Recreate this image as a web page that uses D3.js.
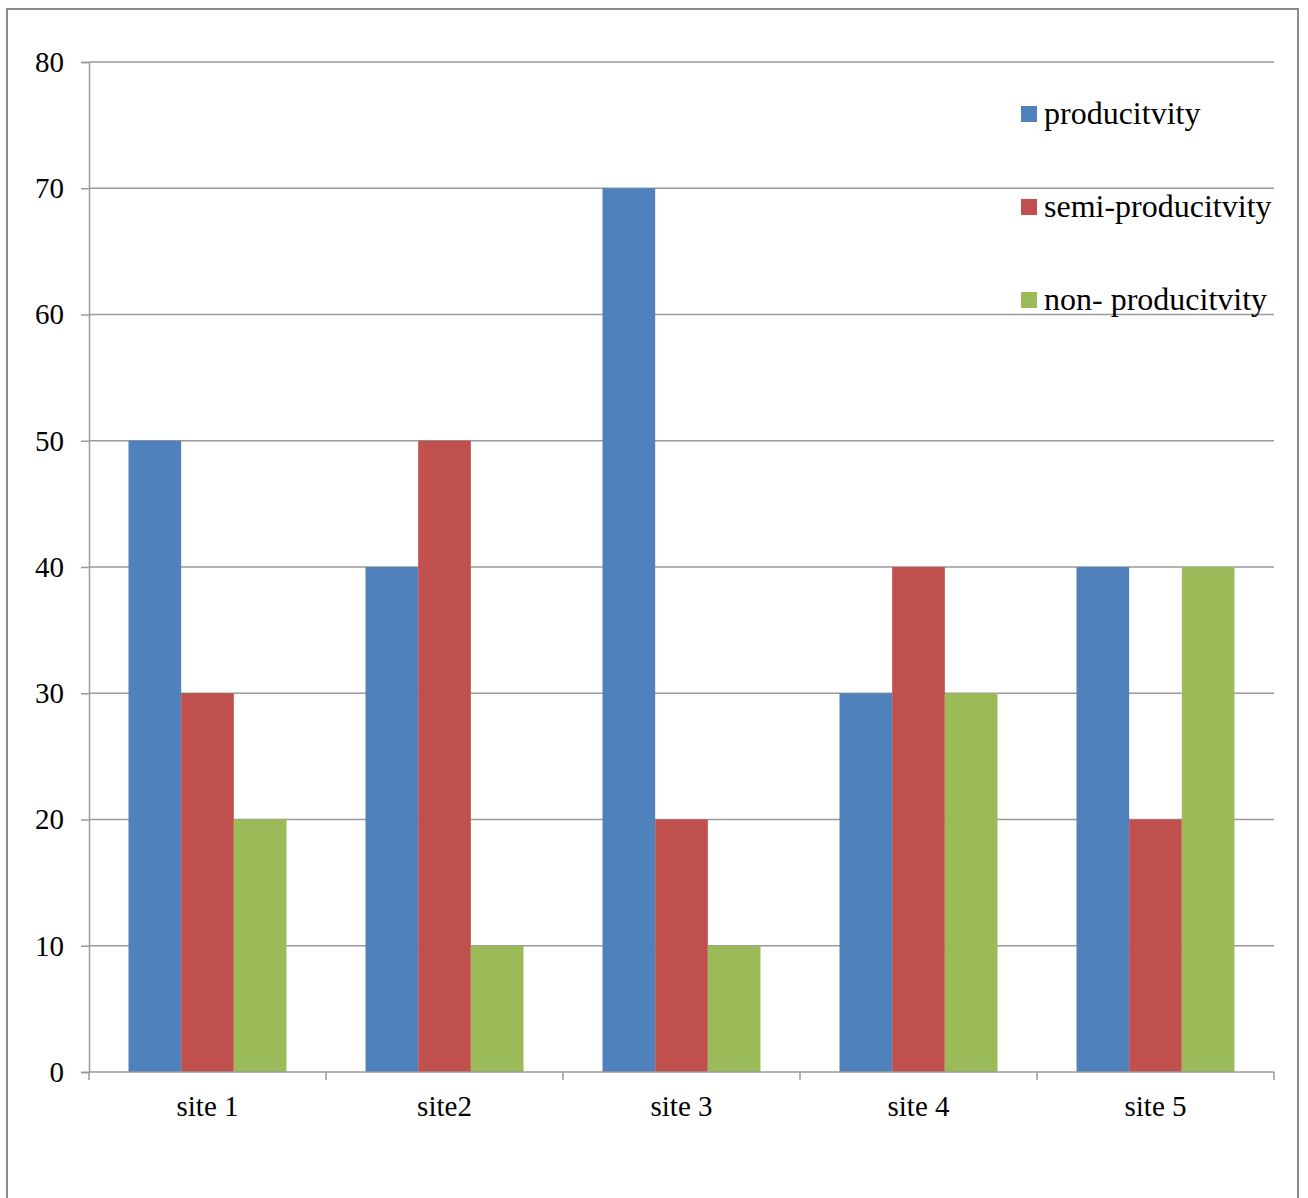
<!DOCTYPE html>
<html><head><meta charset="utf-8">
<script src="https://cdn.jsdelivr.net/npm/d3@7"></script>
<style>body{margin:0;background:#fff;} svg{display:block;font-family:"Liberation Serif","Times New Roman",serif;}</style>
</head><body>
<script>
const sites = ["site 1","site2","site 3","site 4","site 5"];
const seriesNames = ["producitvity","semi-producitvity","non- producitvity"];
const productivity = [50,40,70,30,40];
const semiProductivity = [30,50,20,40,20];
const nonProductivity = [20,10,10,30,40];
const yTicks = [0,10,20,30,40,50,60,70,80];
const colors = ["#4F81BD","#C0504D","#9BBB59"];
const seriesValues = [productivity, semiProductivity, nonProductivity];

const W = 1308, H = 1198;
const svg = d3.select("body").append("svg").attr("width", W).attr("height", H);
svg.append("rect").attr("x",7).attr("y",9).attr("width",1291).attr("height",1200)
  .attr("fill","#fff").attr("stroke","#8a8a8a").attr("stroke-width",2);

const pLeft = 89, pRight = 1274, pTop = 62, pBottom = 1072;
const y = d3.scaleLinear().domain([0,80]).range([pBottom, pTop]);
const x0 = d3.scaleBand().domain(sites).range([pLeft, pRight]).padding(0);
const bw = x0.bandwidth();
const x1 = d3.scaleBand().domain(seriesNames).range([bw/6, bw*5/6]).padding(0);

// gridlines
svg.append("g").selectAll("line").data(yTicks.filter(d=>d>0)).join("line")
  .attr("x1", pLeft).attr("x2", pRight).attr("y1", d=>y(d)).attr("y2", d=>y(d))
  .attr("stroke","#9a9a9a").attr("stroke-width",1.5);

// bars
const data = [];
sites.forEach((s,i)=>seriesNames.forEach((n,j)=>data.push({site:s, name:n, v:seriesValues[j][i], c:colors[j]})));
svg.append("g").selectAll("rect").data(data).join("rect")
  .attr("x", d=>x0(d.site)+x1(d.name)).attr("width", x1.bandwidth())
  .attr("y", d=>y(d.v)).attr("height", d=>pBottom - y(d.v)).attr("fill", d=>d.c);

// y axis
const ya = svg.append("g").attr("transform",`translate(${pLeft},0)`)
  .call(d3.axisLeft(y).tickValues(yTicks).tickSize(8).tickPadding(17).tickFormat(d3.format("d")));
ya.select(".domain").attr("stroke","#9a9a9a").attr("stroke-width",1.5);
ya.selectAll(".tick line").attr("stroke","#9a9a9a").attr("stroke-width",1.5);
ya.selectAll("text").attr("font-size",29).attr("fill","#000").attr("font-family","Liberation Serif, serif");

// x axis
const xa = svg.append("g").attr("transform",`translate(0,${pBottom})`);
xa.append("line").attr("x1",pLeft).attr("x2",pRight).attr("stroke","#9a9a9a").attr("stroke-width",1.5);
const bounds = sites.map(s=>x0(s)).concat([pRight]);
xa.selectAll("line.t").data(bounds).join("line").attr("class","t")
  .attr("x1",d=>d).attr("x2",d=>d).attr("y1",0).attr("y2",8).attr("stroke","#9a9a9a").attr("stroke-width",1.5);
xa.selectAll("text").data(sites).join("text")
  .attr("x", d=>x0(d)+bw/2).attr("y", 44).attr("text-anchor","middle")
  .attr("font-size",29).attr("fill","#000").text(d=>d);

// legend
const lg = svg.append("g").selectAll("g").data(seriesNames).join("g")
  .attr("transform",(d,i)=>`translate(1021,${106 + i*93})`);
lg.append("rect").attr("width",16).attr("height",16).attr("fill",(d,i)=>colors[i]);
lg.append("text").attr("x",23).attr("y",18).attr("font-size",32).attr("fill","#000").text(d=>d);
</script>
</body></html>
